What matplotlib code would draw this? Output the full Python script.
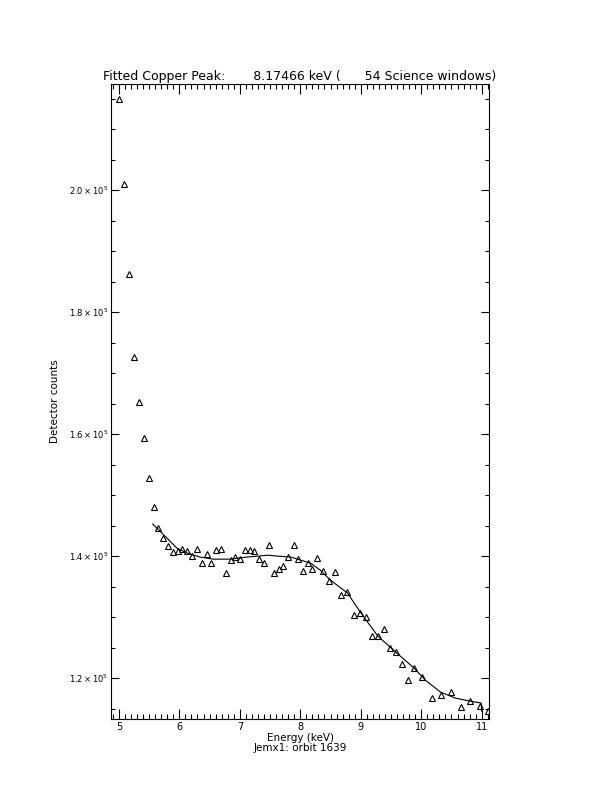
import matplotlib
matplotlib.use("Agg")
import matplotlib.pyplot as plt
from matplotlib.ticker import MultipleLocator, FuncFormatter

# Pontos medidos (energia em keV, contagens do detector)
energia = [5.00, 5.08, 5.17, 5.25, 5.33, 5.41, 5.50, 5.58, 5.65, 5.73,
           5.81, 5.90, 5.98, 6.04, 6.13, 6.21, 6.29, 6.38, 6.46, 6.53,
           6.61, 6.69, 6.77, 6.86, 6.92, 7.01, 7.09, 7.17, 7.24, 7.32,
           7.40, 7.49, 7.57, 7.65, 7.72, 7.80, 7.89, 7.97, 8.05, 8.13,
           8.20, 8.28, 8.37, 8.47, 8.58, 8.68, 8.78, 8.88, 8.98, 9.08,
           9.18, 9.28, 9.38, 9.48, 9.58, 9.68, 9.78, 9.88, 10.01, 10.17,
           10.32, 10.49, 10.66, 10.80, 10.97, 11.11]
contagens = [214900, 201000, 186200, 172600, 165200, 159300, 152800, 148000, 144600, 142950,
             141650, 140650, 140800, 141150, 140800, 140000, 141150, 138850, 140350, 138850,
             140950, 141150, 137200, 139350, 139850, 139500, 140950, 140950, 140800, 139500,
             138850, 141800, 137200, 137850, 138350, 139850, 141800, 139500, 137550, 138850,
             137850, 139650, 137550, 135900, 137400, 133600, 134100, 130350, 130650, 130000,
             126900, 126900, 128050, 124900, 124250, 122300, 119650, 121650, 120150, 116700,
             117200, 117700, 115250, 116250, 115400, 114600]

# Curva ajustada
energia_fit = [5.56, 5.73, 5.96, 6.13, 6.34, 6.56, 6.84, 7.12, 7.47, 7.62,
               7.84, 8.00, 8.17, 8.33, 8.50, 8.78, 8.98, 9.28, 9.58, 9.88,
               10.07, 10.32, 10.57, 10.80, 10.99, 11.00]
contagens_fit = [145250, 143600, 141300, 140500, 139850, 139500, 139500, 139850, 140150, 140000,
                 139850, 139350, 138850, 137700, 136050, 133950, 131000, 126900, 124250, 121650,
                 119650, 117700, 116700, 116250, 115900, 114600]

titulo = "Fitted Copper Peak:       8.17466 keV (      54 Science windows)"

fig = plt.figure(figsize=(6.12, 7.92), dpi=100)
ax = fig.add_axes([0.1814, 0.0922, 0.6176, 0.8018])

ax.plot(energia, contagens, linestyle="none", marker="^", markersize=5,
        markerfacecolor="none", markeredgecolor="black", markeredgewidth=0.8)
ax.plot(energia_fit, contagens_fit, color="black", linewidth=0.8)

ax.set_xlim(4.87, 11.12)
ax.set_ylim(113300, 217400)

ax.xaxis.set_major_locator(MultipleLocator(1))
ax.xaxis.set_minor_locator(MultipleLocator(0.1))
ax.yaxis.set_major_locator(MultipleLocator(20000))
ax.yaxis.set_minor_locator(MultipleLocator(5000))
ax.yaxis.set_major_formatter(FuncFormatter(lambda v, p: r"$%.1f\times10^{5}$" % (v / 1e5)))

ax.tick_params(which="both", direction="in", top=True, right=True, width=0.8)
ax.tick_params(axis="x", which="major", length=7, pad=2, labelsize=7)
ax.tick_params(axis="x", which="minor", length=3.5)
ax.tick_params(axis="y", which="major", length=6, pad=2, labelsize=6)
ax.tick_params(axis="y", which="minor", length=3)
for s in ax.spines.values():
    s.set_linewidth(0.8)

ax.set_title(titulo, fontsize=9, pad=3)
ax.set_xlabel("Energy (keV)\nJemx1: orbit 1639", fontsize=7.5, labelpad=1, linespacing=0.95)
ax.set_ylabel("Detector counts", fontsize=7.5)
ax.yaxis.set_label_coords(-0.135, 0.5)

fig.savefig("out.png", dpi=100)
